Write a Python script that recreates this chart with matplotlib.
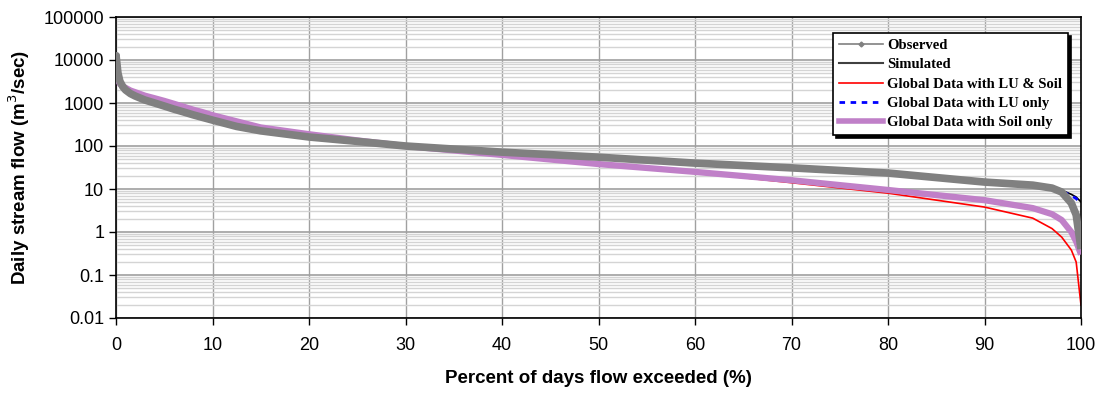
import matplotlib
matplotlib.use("Agg")
import matplotlib.pyplot as plt
from matplotlib.lines import Line2D
from matplotlib.ticker import LogLocator, FixedLocator, FuncFormatter, NullFormatter

# ---- data (percent of days flow exceeded vs daily stream flow, m3/s) ----
pct = [0, 0.1, 0.2, 0.4, 0.7, 1, 1.5, 2, 3, 4, 5, 6, 7, 8, 9, 10, 12.5, 15, 20, 25, 30,
       40, 50, 60, 70, 80, 90, 95, 97, 98, 99, 99.5, 100]

observed = [13000, 8000, 5000, 3200, 2400, 2000, 1650, 1450, 1170, 1000, 850, 720, 620, 530, 460, 400,
            285, 225, 162, 128, 100, 72, 55, 40, 31, 23.5, 14.5, 12.3, 10.5, 8.5, 4.7, 2.5, 0.4]
simulated = [9000, 6000, 4200, 3000, 2300, 1950, 1620, 1420, 1150, 985, 840, 710, 615, 525, 455, 395,
             282, 222, 160, 127, 99, 71, 54, 40, 31, 23.5, 14.8, 12.5, 11, 9.4, 7.5, 6.5, 5.0]
lu_soil = [5300, 4000, 3300, 2650, 2350, 2150, 1880, 1700, 1400, 1220, 1070, 920, 800, 690, 600, 520,
           370, 268, 186, 133, 98, 60, 37, 24, 14, 8, 3.8, 2.1, 1.2, 0.76, 0.38, 0.2, 0.02]
lu_only = [8800, 5900, 4100, 2950, 2280, 1930, 1610, 1410, 1140, 980, 835, 705, 612, 522, 452, 393,
           280, 221, 159, 127, 99, 71, 54, 40, 31, 23.5, 14.7, 12.4, 10.8, 9.0, 7.0, 6.0, 4.5]
soil_only = [5600, 4200, 3400, 2800, 2450, 2250, 1950, 1780, 1480, 1290, 1120, 960, 820, 700, 610, 520,
             375, 270, 188, 135, 100, 62, 38, 25, 16, 9.5, 5.5, 3.6, 2.6, 1.9, 1.0, 0.6, 0.3]

labels = ["Observed", "Simulated", "Global Data with LU & Soil",
          "Global Data with LU only", "Global Data with Soil only"]

xticks = [0, 10, 20, 30, 40, 50, 60, 70, 80, 90, 100]
yticks = [0.01, 0.1, 1, 10, 100, 1000, 10000, 100000]

C_OBS = "#808080"
C_SIM = "#000000"
C_LUS = "#FF0000"
C_LU = "#0000FF"
C_SOIL = "#C080C8"

fig = plt.figure(figsize=(10.99, 3.94), dpi=100)
ax = fig.add_axes([116/1099, 1-318/394, (1081-116)/1099, (318-17)/394])

ax.plot(pct, lu_soil, color=C_LUS, lw=1.2, zorder=2)
ax.plot(pct, simulated, color=C_SIM, lw=1.2, zorder=2.2)
ax.plot(pct, lu_only, color=C_LU, lw=2, ls=(0, (2, 2)), zorder=2.4)
ax.plot(pct, soil_only, color=C_SOIL, lw=4.5, zorder=3, solid_capstyle="butt")
ax.plot(pct, observed, color=C_OBS, lw=5.5, zorder=4, marker="o", ms=4,
        markevery=[0], solid_capstyle="butt")

ax.set_yscale("log")
ax.set_xlim(0, 100)
ax.set_ylim(0.01, 100000)
ax.xaxis.set_major_locator(FixedLocator(xticks))
ax.yaxis.set_major_locator(FixedLocator(yticks))
ax.yaxis.set_minor_locator(LogLocator(base=10, subs=range(2, 10), numticks=20))
ax.yaxis.set_minor_formatter(NullFormatter())
ax.yaxis.set_major_formatter(FuncFormatter(lambda v, p: ("%g" % v)))

ax.grid(True, which="major", axis="x", color="#A0A0A0", lw=1)
ax.grid(True, which="major", axis="y", color="#A0A0A0", lw=1.2)
ax.grid(True, which="minor", axis="y", color="#D4D4D4", lw=1)
ax.set_axisbelow(True)

for s in ax.spines.values():
    s.set_color("black")
    s.set_linewidth(1.2)

ax.tick_params(axis="both", which="major", direction="out", length=5, width=1,
               labelsize=13, colors="black")
ax.tick_params(axis="y", which="minor", length=0)
ax.tick_params(axis="x", pad=9)
for lab in ax.get_xticklabels() + ax.get_yticklabels():
    lab.set_family("Liberation Sans")

ax.set_xlabel("Percent of days flow exceeded (%)", fontsize=13.5, fontweight="bold",
              family="Liberation Sans", labelpad=11)
ax.set_ylabel("Daily stream flow (m$^3$/sec)", fontsize=13.5, fontweight="bold",
              family="Liberation Sans", labelpad=8)

handles = [
    Line2D([], [], color=C_OBS, lw=1.2, marker="D", ms=2.5),
    Line2D([], [], color="#404040", lw=1.5),
    Line2D([], [], color=C_LUS, lw=1.2),
    Line2D([], [], color=C_LU, lw=2, ls=(0, (2, 2))),
    Line2D([], [], color=C_SOIL, lw=4),
]
leg = ax.legend(handles, labels, loc="upper right",
                bbox_to_anchor=((1068-116)/965, (318-33)/301),
                prop={"family": "Liberation Serif", "weight": "bold", "size": 10.5},
                frameon=True, fancybox=False, edgecolor="black",
                shadow={"color": "black", "alpha": 1},
                handlelength=3.0, handletextpad=0.3, labelspacing=0.42,
                borderpad=0.4, borderaxespad=0)
leg.get_frame().set_linewidth(1.2)
leg.set_zorder(10)

fig.savefig("out.png", dpi=100)
